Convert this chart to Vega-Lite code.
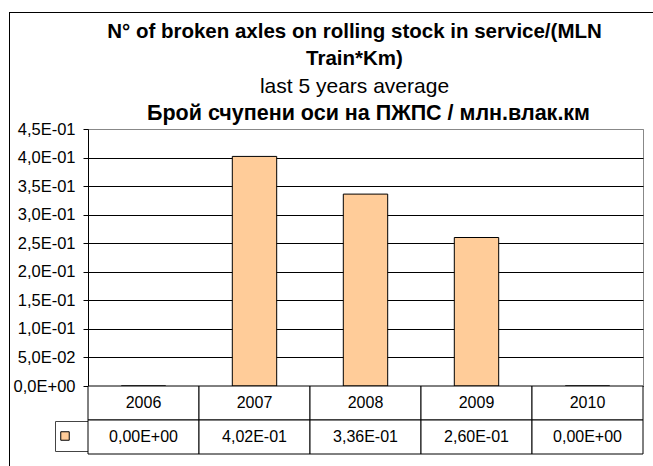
{
  "$schema": "https://vega.github.io/schema/vega-lite/v6.json",
  "padding": {"left": 8, "top": 11, "right": 0, "bottom": 0},
  "background": "white",
  "bounds": "flush",
  "spacing": 0,
  "datasets": {
    "bars": [
      {"year": "2006", "value": 0, "label": "0,00E+00"},
      {"year": "2007", "value": 0.402, "label": "4,02E-01"},
      {"year": "2008", "value": 0.336, "label": "3,36E-01"},
      {"year": "2009", "value": 0.26, "label": "2,60E-01"},
      {"year": "2010", "value": 0, "label": "0,00E+00"}
    ]
  },
  "title": {
    "text": ["N° of broken axles on rolling stock in service/(MLN", "Train*Km)"],
    "subtitle": "last 5 years average",
    "font": "Liberation Sans",
    "fontSize": 20.5,
    "fontWeight": "bold",
    "lineHeight": 27,
    "color": "black",
    "subtitleFont": "Liberation Sans",
    "subtitleFontSize": 21,
    "subtitleFontWeight": "normal",
    "subtitleLineHeight": 27,
    "subtitleColor": "black",
    "subtitlePadding": 6,
    "anchor": "middle",
    "dx": 23,
    "dy": 85,
    "offset": 0
  },
  "resolve": {"scale": {"x": "independent", "y": "independent", "color": "independent", "fill": "independent", "stroke": "independent"}},
  "vconcat": [
    {
      "width": 555,
      "height": 257,
      "title": {
        "text": "Брой счупени оси на ПЖПС / млн.влак.км",
        "font": "Liberation Sans",
        "fontSize": 21.5,
        "fontWeight": "bold",
        "color": "black",
        "anchor": "middle",
        "offset": 0,
        "dx": 3,
        "dy": 112
      },
      "view": {"stroke": "#888888", "strokeWidth": 1},
      "data": {"name": "bars"},
      "encoding": {
        "x": {
          "field": "year",
          "type": "nominal",
          "sort": null,
          "scale": {"paddingInner": 0.6, "paddingOuter": 0.3},
          "axis": null
        },
        "y": {
          "field": "value",
          "type": "quantitative",
          "scale": {"domain": [0, 0.45], "nice": false, "zero": true},
          "axis": {
            "title": null,
            "values": [0, 0.05, 0.1, 0.15, 0.2, 0.25, 0.3, 0.35, 0.4, 0.45],
            "labelExpr": "datum.value == 0 ? '0,0E+00' : (datum.value < 0.09 ? replace(format(datum.value*100, '.1f'), '.', ',') + 'E-02' : replace(format(datum.value*10, '.1f'), '.', ',') + 'E-01')",
            "labelFont": "Liberation Sans",
            "labelFontSize": 16.5,
            "labelColor": "black",
            "labelPadding": 8,
            "tickSize": 5,
            "tickColor": "black",
            "domainColor": "black",
            "grid": true,
            "gridColor": {"condition": {"test": "datum.value > 0.449", "value": "#888888"}, "value": "black"},
            "gridOpacity": 1,
            "gridWidth": 1
          }
        }
      },
      "layer": [
        {
          "mark": {"type": "bar", "strokeWidth": 1},
          "encoding": {
            "fill": {
              "datum": "series",
              "type": "nominal",
              "scale": {"range": ["#FFCC99"]},
              "legend": {
                "orient": "none",
                "legendX": -33,
                "legendY": 292,
                "title": null,
                "labelExpr": "'i'",
                "labelColor": "white",
                "labelFontSize": 20,
                "labelOffset": 9,
                "symbolOffset": -5,
                "symbolType": "square",
                "symbolSize": 72,
                "symbolStrokeColor": "black",
                "symbolStrokeWidth": 1,
                "strokeColor": "#444444",
                "padding": 5
              }
            },
            "stroke": {
              "field": "value",
              "type": "quantitative",
              "scale": {"range": ["black", "black"]},
              "legend": {
                "orient": "none",
                "direction": "vertical",
                "legendX": -79,
                "legendY": -117,
                "title": null,
                "padding": 0,
                "gradientLength": 455,
                "gradientThickness": 1,
                "gradientStrokeWidth": 0,
                "labelExpr": "''"
              }
            }
          }
        },
        {
          "mark": {"type": "rule", "strokeWidth": 1},
          "encoding": {
            "y": {"datum": 0},
            "color": {
              "field": "value",
              "type": "quantitative",
              "scale": {"range": ["black", "black"]},
              "legend": {
                "orient": "none",
                "direction": "horizontal",
                "legendX": -79,
                "legendY": -117,
                "title": null,
                "padding": 0,
                "gradientLength": 645,
                "gradientThickness": 1,
                "gradientStrokeWidth": 0,
                "labelExpr": "''"
              }
            }
          }
        }
      ]
    },
    {
      "width": 555,
      "height": 68,
      "view": {"stroke": null},
      "data": {"name": "bars"},
      "encoding": {
        "x": {
          "field": "year",
          "type": "nominal",
          "sort": null,
          "scale": {"paddingInner": 0, "paddingOuter": 0},
          "axis": null
        }
      },
      "layer": [
        {
          "mark": {"type": "rect", "fill": "white", "stroke": "black", "strokeWidth": 1},
          "encoding": {
            "y": {
              "datum": "year",
              "type": "nominal",
              "scale": {"domain": ["year", "value"], "paddingInner": 0, "paddingOuter": 0},
              "axis": null
            }
          }
        },
        {
          "mark": {"type": "rect", "fill": "white", "stroke": "black", "strokeWidth": 1},
          "encoding": {"y": {"datum": "value", "type": "nominal"}}
        },
        {
          "mark": {"type": "text", "font": "Liberation Sans", "fontSize": 16, "color": "black"},
          "encoding": {"y": {"datum": "year", "type": "nominal"}, "text": {"field": "year"}}
        },
        {
          "mark": {"type": "text", "font": "Liberation Sans", "fontSize": 16, "color": "black"},
          "encoding": {"y": {"datum": "value", "type": "nominal"}, "text": {"field": "label"}}
        }
      ]
    }
  ]
}
